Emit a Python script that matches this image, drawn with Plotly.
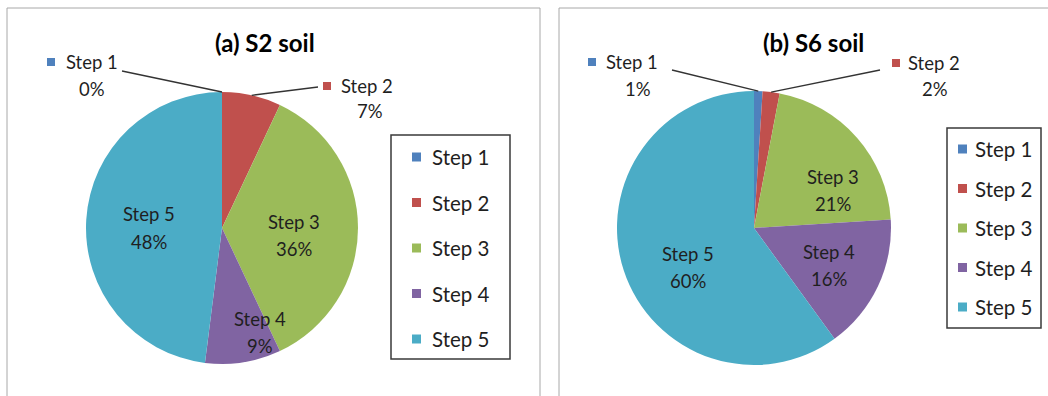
import math
import plotly.graph_objects as go

# ---- data -------------------------------------------------------------
steps = ["Step 1", "Step 2", "Step 3", "Step 4", "Step 5"]
s2_share = [0, 7, 36, 9, 48]      # % of total, S2 soil
s6_share = [1, 2, 21, 16, 60]     # % of total, S6 soil
titles = ["(a) S2 soil", "(b) S6 soil"]

# ---- styling ----------------------------------------------------------
colors = ["#4F81BD", "#C0504D", "#9BBB59", "#8064A2", "#4BACC6"]
FONT = "Lato"
W, H = 1048, 396
LABEL_SIZE = 18.5
LEGEND_SIZE = 20.5
TITLE_SIZE = 24

def px(x):
    return x / W

def py(y):
    return 1 - y / H

# pie geometry in pixels: centre x, centre y, radius
panels = [
    dict(values=s2_share, cx=222, cy=228, r=136, title_x=265,
         box=(7, 8, 540, 420),
         legend=dict(x0=391, y0=135, x1=510, y1=359, first=157, gap=45.5, sq=412, tx=432),
         outside={0: dict(sq=47, tx=66, ny=62, pcx=92, py=89, lx=122, ly=71),
                  1: dict(sq=323, tx=341, ny=86, pcx=370, py=111, lx=318, ly=87)},
         inside={2: (6, 0.53), 3: (-11, 0.82), 4: (-3.6, 0.54)}),
    dict(values=s6_share, cx=754, cy=228, r=137, title_x=813,
         box=(559, 8, 1100, 420),
         legend=dict(x0=947, y0=128, x1=1041, y1=328, first=149, gap=39.5, sq=958, tx=975),
         outside={0: dict(sq=588, tx=606, ny=62, pcx=638, py=89, lx=672, ly=70),
                  1: dict(sq=892, tx=908, ny=63, pcx=935, py=89, lx=880, ly=70)},
         inside={2: (16, 0.64), 3: (1.6, 0.61), 4: (-13, 0.56)}),
]

fig = go.Figure()
shapes, annotations = [], []
TXT = "#1f1f1f"


def text(s, x, y, size, anchor="center", bold=False):
    annotations.append(dict(text="<b>%s</b>" % s if bold else s,
                            xref="paper", yref="paper", x=px(x), y=py(y),
                            xanchor=anchor, yanchor="middle", showarrow=False,
                            font=dict(family=FONT, size=size,
                                      color="#000" if bold else TXT)))


for k, p in enumerate(panels):
    # panel frame
    bx0, by0, bx1, by1 = p["box"]
    shapes.append(dict(type="rect", xref="paper", yref="paper",
                       x0=px(bx0), x1=px(bx1), y0=py(by1), y1=py(by0),
                       line=dict(color="#A8A8A8", width=1), layer="below"))

    cx, cy, r = p["cx"], p["cy"], p["r"]
    fig.add_trace(go.Pie(
        labels=steps, values=p["values"], sort=False, direction="clockwise",
        rotation=0, marker=dict(colors=colors, line=dict(width=0)),
        textinfo="none", hoverinfo="label+percent", showlegend=False,
        domain=dict(x=[px(cx - r), px(cx + r)], y=[py(cy + r), py(cy - r)]),
    ))

    # mid angle of each slice (clockwise from 12 o'clock)
    total = sum(p["values"])
    mids, acc = [], 0
    for v in p["values"]:
        mids.append((acc + v / 2) / total * 360)
        acc += v

    text(titles[k], p["title_x"], 43, TITLE_SIZE, bold=True)

    # labels inside large slices
    for i, (nudge, frac) in p["inside"].items():
        a = math.radians(mids[i] + nudge)
        lx = cx + frac * r * math.sin(a)
        ly = cy - frac * r * math.cos(a)
        text(steps[i], lx, ly - 13.5, LABEL_SIZE)
        text("%d%%" % p["values"][i], lx, ly + 13.5, LABEL_SIZE)

    # outside labels with leader lines for the small slices
    for i, o in p["outside"].items():
        shapes.append(dict(type="rect", xref="paper", yref="paper",
                           x0=px(o["sq"]), x1=px(o["sq"] + 8),
                           y0=py(o["ny"] + 4), y1=py(o["ny"] - 4),
                           fillcolor=colors[i], line=dict(width=0)))
        text(steps[i], o["tx"] - 2, o["ny"], LABEL_SIZE, anchor="left")
        text("%d%%" % p["values"][i], o["pcx"], o["py"], LABEL_SIZE)
        a = math.radians(mids[i])
        ex = cx + r * math.sin(a)
        ey = cy - r * math.cos(a)
        shapes.append(dict(type="line", xref="paper", yref="paper",
                           x0=px(o["lx"]), y0=py(o["ly"]), x1=px(ex), y1=py(ey),
                           line=dict(color="#333", width=1.3)))

    # legend box
    lg = p["legend"]
    shapes.append(dict(type="rect", xref="paper", yref="paper",
                       x0=px(lg["x0"]), x1=px(lg["x1"]), y0=py(lg["y1"]), y1=py(lg["y0"]),
                       line=dict(color="#3a3a3a", width=1.5), fillcolor="white"))
    for i, name in enumerate(steps):
        yy = lg["first"] + i * lg["gap"]
        shapes.append(dict(type="rect", xref="paper", yref="paper",
                           x0=px(lg["sq"]), x1=px(lg["sq"] + 9),
                           y0=py(yy + 4.5), y1=py(yy - 4.5),
                           fillcolor=colors[i], line=dict(width=0)))
        text(name, lg["tx"] - 2, yy, LEGEND_SIZE, anchor="left")

fig.update_layout(width=W, height=H, margin=dict(l=0, r=0, t=0, b=0),
                  paper_bgcolor="white", plot_bgcolor="white",
                  shapes=shapes, annotations=annotations, showlegend=False)

fig.write_html("out.html")
